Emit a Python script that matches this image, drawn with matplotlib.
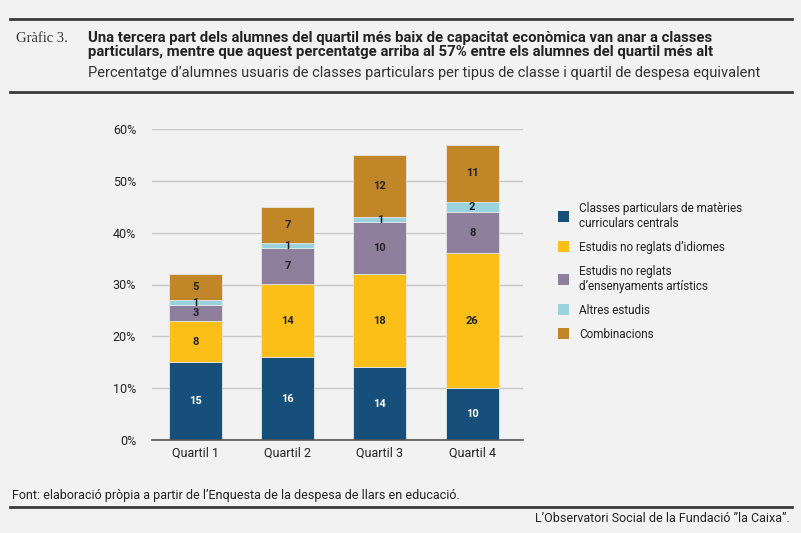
import matplotlib
matplotlib.use("Agg")
import matplotlib.pyplot as plt
from matplotlib.lines import Line2D
from matplotlib.patches import Patch
import numpy as np

quartils = ["Quartil 1", "Quartil 2", "Quartil 3", "Quartil 4"]
centrals = [15, 16, 14, 10]
idiomes = [8, 14, 18, 26]
artistics = [3, 7, 10, 8]
altres = [1, 1, 1, 2]
combinacions = [5, 7, 12, 11]

series_names = ["Classes particulars de matèries\ncurriculars centrals",
                "Estudis no reglats d’idiomes",
                "Estudis no reglats\nd’ensenyaments artístics",
                "Altres estudis",
                "Combinacions"]
colors = ["#154f7a", "#fcbf17", "#8e7f9c", "#98d3de", "#c08627"]
label_colors = ["white", "#222222", "#222222", "#222222", "#222222"]

bg = "#f2f2f2"
W, H = 801, 533
fig = plt.figure(figsize=(W / 100, H / 100), dpi=100, facecolor=bg)

def fx(px):
    return px / W

def fy(py):
    return 1 - py / H

# rules
for yy in [19, 92, 507]:
    fig.add_artist(Line2D([fx(10), fx(792)], [fy(yy), fy(yy)], color="#3a3a3a", lw=2.0,
                          transform=fig.transFigure))

fig.text(fx(16), fy(38), "Gràfic 3.", family="Liberation Serif", fontsize=10.5,
         color="#333333", va="center")
title = ("Una tercera part dels alumnes del quartil més baix de capacitat econòmica van anar a classes\n"
         "particulars, mentre que aquest percentatge arriba al 57% entre els alumnes del quartil més alt")
fig.text(fx(88), fy(45), title, family="Roboto", fontweight="bold", fontsize=10.7,
         color="#222222", va="center", linespacing=1.08)
fig.text(fx(88), fy(73), "Percentatge d’alumnes usuaris de classes particulars per tipus de classe i quartil de despesa equivalent",
         family="Roboto", fontsize=10.5, color="#333333", va="center")

fig.text(fx(12), fy(495), "Font: elaboració pròpia a partir de l’Enquesta de la despesa de llars en educació.",
         family="Roboto", fontsize=9, color="#222222", va="center")
fig.text(fx(790), fy(518), "L’Observatori Social de la Fundació ”la Caixa”.",
         family="Roboto", fontsize=9, color="#222222", va="center", ha="right")

# chart
ax = fig.add_axes([fx(152), fy(440), fx(523) - fx(152), fy(129) - fy(440)])
ax.set_facecolor(bg)
x = np.arange(len(quartils))
data = [centrals, idiomes, artistics, altres, combinacions]
bottom = np.zeros(len(quartils))
for vals, c, lc, name in zip(data, colors, label_colors, series_names):
    vals = np.array(vals, dtype=float)
    ax.bar(x, vals, 0.575, bottom=bottom, color=c, edgecolor="#e6e6e6", linewidth=0.6,
           zorder=3, label=name)
    for xi, b, v in zip(x, bottom, vals):
        ax.text(xi, b + v / 2, f"{int(v)}", ha="center", va="center", color=lc,
                fontsize=8, fontweight="bold", family="Roboto", zorder=4)
    bottom += vals

ax.set_xlim(-0.47, 3.55)
ax.set_ylim(0, 60)
ax.set_yticks(np.arange(0, 61, 10))
ax.set_yticklabels([f"{v}%" for v in range(0, 61, 10)])
ax.set_xticks(x)
ax.set_xticklabels(quartils)
ax.grid(axis="y", color="#c8c8c8", lw=1, zorder=0)
for s in ["top", "right", "left"]:
    ax.spines[s].set_visible(False)
ax.spines["bottom"].set_color("#555555")
ax.spines["bottom"].set_linewidth(1.2)
ax.spines["bottom"].set_zorder(5)
ax.tick_params(axis="both", length=0, labelsize=9, labelcolor="#222222")
ax.tick_params(axis="y", pad=11.5)
ax.tick_params(axis="x", pad=5)
for lab in ax.get_xticklabels() + ax.get_yticklabels():
    lab.set_family("Roboto")

handles = [Patch(facecolor=c, edgecolor="none") for c in colors]
fig.legend(handles, series_names, loc="upper left", bbox_to_anchor=(fx(547), fy(191)),
           frameon=False, prop={"family": "Roboto", "size": 8.5}, handlelength=0.95,
           handleheight=0.95, handletextpad=0.85, labelspacing=0.93, labelcolor="#222222")

fig.savefig("out.png", dpi=100, facecolor=bg)
